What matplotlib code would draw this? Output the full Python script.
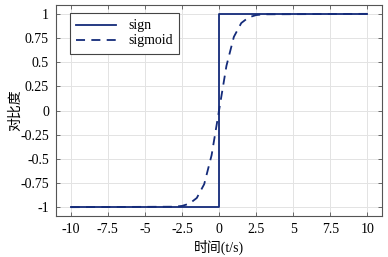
import matplotlib
matplotlib.use('Agg')
import matplotlib.pyplot as plt

plt.rcParams['font.family'] = ['Liberation Serif', 'Noto Sans CJK SC']

# sign
sign_x = [-10, 0, 0, 10]
sign_y = [-1, -1, 1, 1]

# sigmoid
sig_x = [-10, -3, -2.5, -2, -1.5, -1, -0.5, 0, 0.5, 1, 1.5, 2, 2.5, 3, 10]
sig_y = [-1, -0.995, -0.987, -0.964, -0.905, -0.762, -0.462, 0,
         0.462, 0.762, 0.905, 0.964, 0.987, 0.995, 1]

xticks = [-10, -7.5, -5, -2.5, 0, 2.5, 5, 7.5, 10]
xtick_labels = ['-10', '-7.5', '-5', '-2.5', '0', '2.5', '5', '7.5', '10']
yticks = [-1, -0.75, -0.5, -0.25, 0, 0.25, 0.5, 0.75, 1]
ytick_labels = ['-1', '-0.75', '-0.5', '-0.25', '0', '0.25', '0.5', '0.75', '1']

col = '#142b7a'

fig = plt.figure(figsize=(3.88, 2.57), dpi=100)
ax = fig.add_axes([0.144, 0.16, 0.841, 0.82])

ax.plot(sign_x, sign_y, color=col, lw=1.3, label='sign')
ax.plot(sig_x, sig_y, color=col, lw=1.3, ls=(0, (5, 3.5)), label='sigmoid')

ax.set_xlim(-11, 11)
ax.set_ylim(-1.09, 1.09)
ax.set_xticks(xticks)
ax.set_xticklabels(xtick_labels)
ax.set_yticks(yticks)
ax.set_yticklabels(ytick_labels)
ax.tick_params(direction='in', top=True, right=True, labelsize=10, length=3,
               width=0.6, color='#555555', pad=5)
ax.grid(True, color='#e3e3e3', lw=0.7)
for s in ax.spines.values():
    s.set_color('#555555')
    s.set_linewidth(0.8)

ax.set_xlabel('时间(t/s)', fontsize=10, labelpad=3)
ax.set_ylabel('对比度', fontsize=10)
ax.yaxis.set_label_coords(-0.105, 0.5)

leg = ax.legend(loc='upper left', bbox_to_anchor=(0.043, 0.962), borderaxespad=0,
                fontsize=10, fancybox=False, framealpha=1, edgecolor='#444444',
                handlelength=2.9, handletextpad=0.85, labelspacing=0.15,
                borderpad=0.45)
leg.get_frame().set_linewidth(0.8)

fig.savefig('out.png', dpi=100)
